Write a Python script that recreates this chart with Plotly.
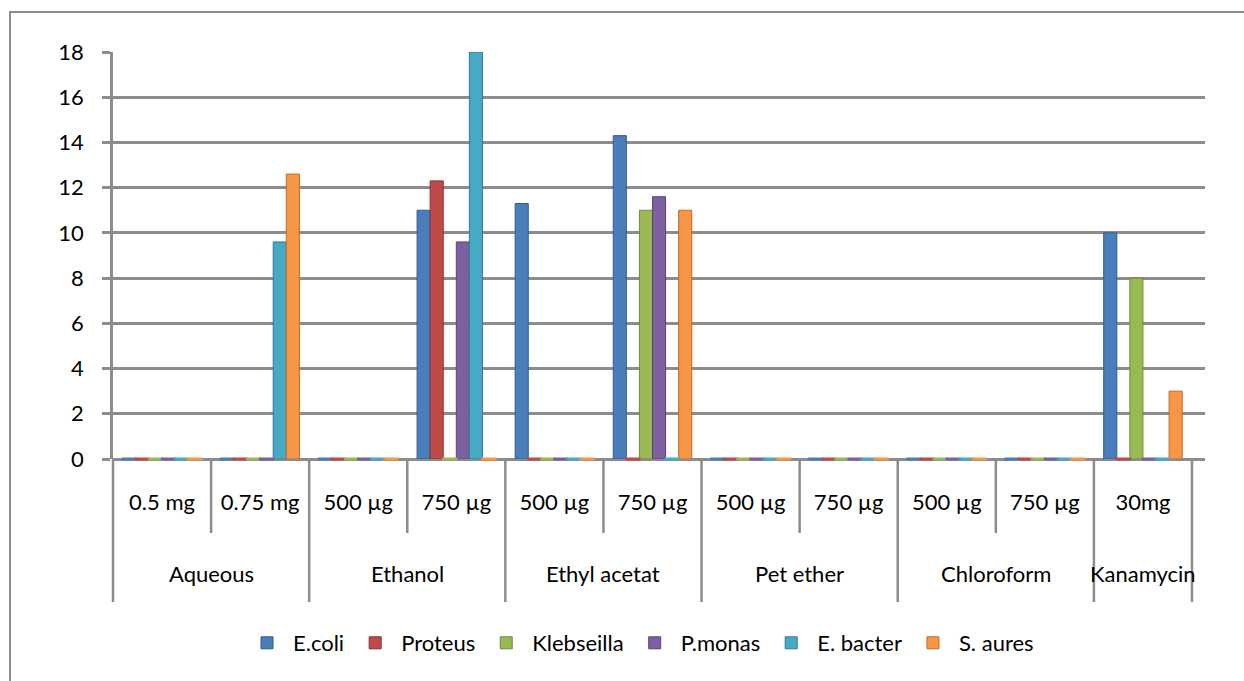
import plotly.graph_objects as go

# Extract groups and doses
groups = ["Aqueous", "Ethanol", "Ethyl acetat", "Pet ether", "Chloroform", "Kanamycin"]
group_sizes = [2, 2, 2, 2, 2, 1]
doses = ["0.5 mg", "0.75 mg", "500 µg", "750 µg", "500 µg", "750 µg",
         "500 µg", "750 µg", "500 µg", "750 µg", "30mg"]

# Zone of inhibition for each organism
e_coli = [0, 0, 0, 11, 11.3, 14.3, 0, 0, 0, 0, 10]
proteus = [0, 0, 0, 12.3, 0, 0, 0, 0, 0, 0, 0]
klebseilla = [0, 0, 0, 0, 0, 11, 0, 0, 0, 0, 8]
p_monas = [0, 0, 0, 9.6, 0, 11.6, 0, 0, 0, 0, 0]
e_bacter = [0, 9.6, 0, 18, 0, 0, 0, 0, 0, 0, 0]
s_aures = [0, 12.6, 0, 0, 0, 11, 0, 0, 0, 0, 3]

series_names = ["E.coli", "Proteus", "Klebseilla", "P.monas", "E. bacter", "S. aures"]
series_values = [e_coli, proteus, klebseilla, p_monas, e_bacter, s_aures]
fill_colors = ["#4a7ebb", "#be4b48", "#98b954", "#7d60a0", "#46aac5", "#f79646"]
edge_colors = ["#2f5b8f", "#8e2f2c", "#6f8c36", "#5a4279", "#2b7f97", "#c26a20"]

y_ticks = [0, 2, 4, 6, 8, 10, 12, 14, 16, 18]

FONT = "Lato"
FS = 22
GRAY = "#8c8c8c"

# pixel geometry of the plot area (1244 x 681 page)
W, H = 1244, 681
L, R, T, B = 113, 39, 52, 222
plot_w = W - L - R
plot_h = H - T - B
x_lo, x_hi = -0.5, 10.5 + 13 / 98

x_idx = list(range(len(doses)))

fig = go.Figure()
for name, vals, fc, ec in zip(series_names, series_values, fill_colors, edge_colors):
    fig.add_trace(go.Bar(
        x=x_idx, y=vals, name=name,
        marker=dict(color=fc, line=dict(color=ec, width=1)),
        legendgroup=name,
    ))

# flat discs on the floor for the zero readings
for name, vals, fc, ec in zip(series_names, series_values, fill_colors, edge_colors):
    zx = [i for i, v in zip(x_idx, vals) if v == 0]
    zy = [v for v in vals if v == 0]
    fig.add_trace(go.Scatter(
        x=zx, y=zy, mode="markers", showlegend=False, legendgroup=name,
        marker=dict(symbol="line-ew", size=11, line=dict(color=fc, width=3)),
        hoverinfo="skip", cliponaxis=False,
    ))


def px_x(px):
    return (px - L) / plot_w


def px_y(py):
    return (H - B - py) / plot_h


def data_x_to_paper(x):
    return (x - x_lo) / (x_hi - x_lo)


shapes = []
# category dividers below the axis
pos = -0.5
outer = [pos]
for n in group_sizes:
    pos += n
    outer.append(pos)
inner = [b + 0.5 for b in range(len(doses)) if (b + 0.5) not in outer and b + 0.5 < 10.5]
for b in outer:
    xp = data_x_to_paper(b)
    shapes.append(dict(type="line", xref="paper", yref="paper", x0=xp, x1=xp,
                       y0=0, y1=px_y(602), line=dict(color=GRAY, width=2.5)))
for b in inner:
    xp = data_x_to_paper(b)
    shapes.append(dict(type="line", xref="paper", yref="paper", x0=xp, x1=xp,
                       y0=0, y1=px_y(533), line=dict(color=GRAY, width=2.5)))
# chart frame
shapes.append(dict(type="rect", xref="paper", yref="paper",
                   x0=px_x(10), x1=px_x(1250), y0=px_y(12), y1=px_y(690),
                   line=dict(color=GRAY, width=2), layer="below"))

# group labels
annotations = []
pos = -0.5
for g, n in zip(groups, group_sizes):
    cx = pos + n / 2
    pos += n
    annotations.append(dict(text=g, xref="paper", yref="paper",
                            x=data_x_to_paper(cx), y=px_y(573),
                            xanchor="center", yanchor="middle", showarrow=False,
                            font=dict(family=FONT, size=FS, color="#000000")))

fig.update_layout(
    width=W, height=H,
    margin=dict(l=L, r=R, t=T, b=B),
    paper_bgcolor="white", plot_bgcolor="white",
    barmode="group", bargap=0.2, bargroupgap=0,
    scattermode="group", scattergap=0.2,
    font=dict(family=FONT, size=FS, color="#000000"),
    showlegend=True,
    legend=dict(orientation="h", x=px_x(640), xanchor="center",
                y=px_y(643), yanchor="middle",
                font=dict(family=FONT, size=FS, color="#000000"),
                itemwidth=42, traceorder="normal"),
    shapes=shapes,
    annotations=annotations,
)
fig.update_xaxes(
    range=[x_lo, x_hi], tickmode="array", tickvals=x_idx, ticktext=doses,
    showgrid=False, zeroline=False, showline=False, ticks="",
    ticklabelstandoff=28, tickfont=dict(family=FONT, size=FS),
)
fig.update_yaxes(
    range=[0, 18], tickmode="array", tickvals=y_ticks,
    showgrid=True, gridcolor=GRAY, gridwidth=2.5,
    zeroline=True, zerolinecolor=GRAY, zerolinewidth=2.5,
    showline=True, linecolor=GRAY, linewidth=2.5,
    ticks="outside", ticklen=8, tickcolor=GRAY, tickwidth=2.5,
    ticklabelstandoff=14, tickfont=dict(family=FONT, size=FS),
)

fig.write_html("out.html")
